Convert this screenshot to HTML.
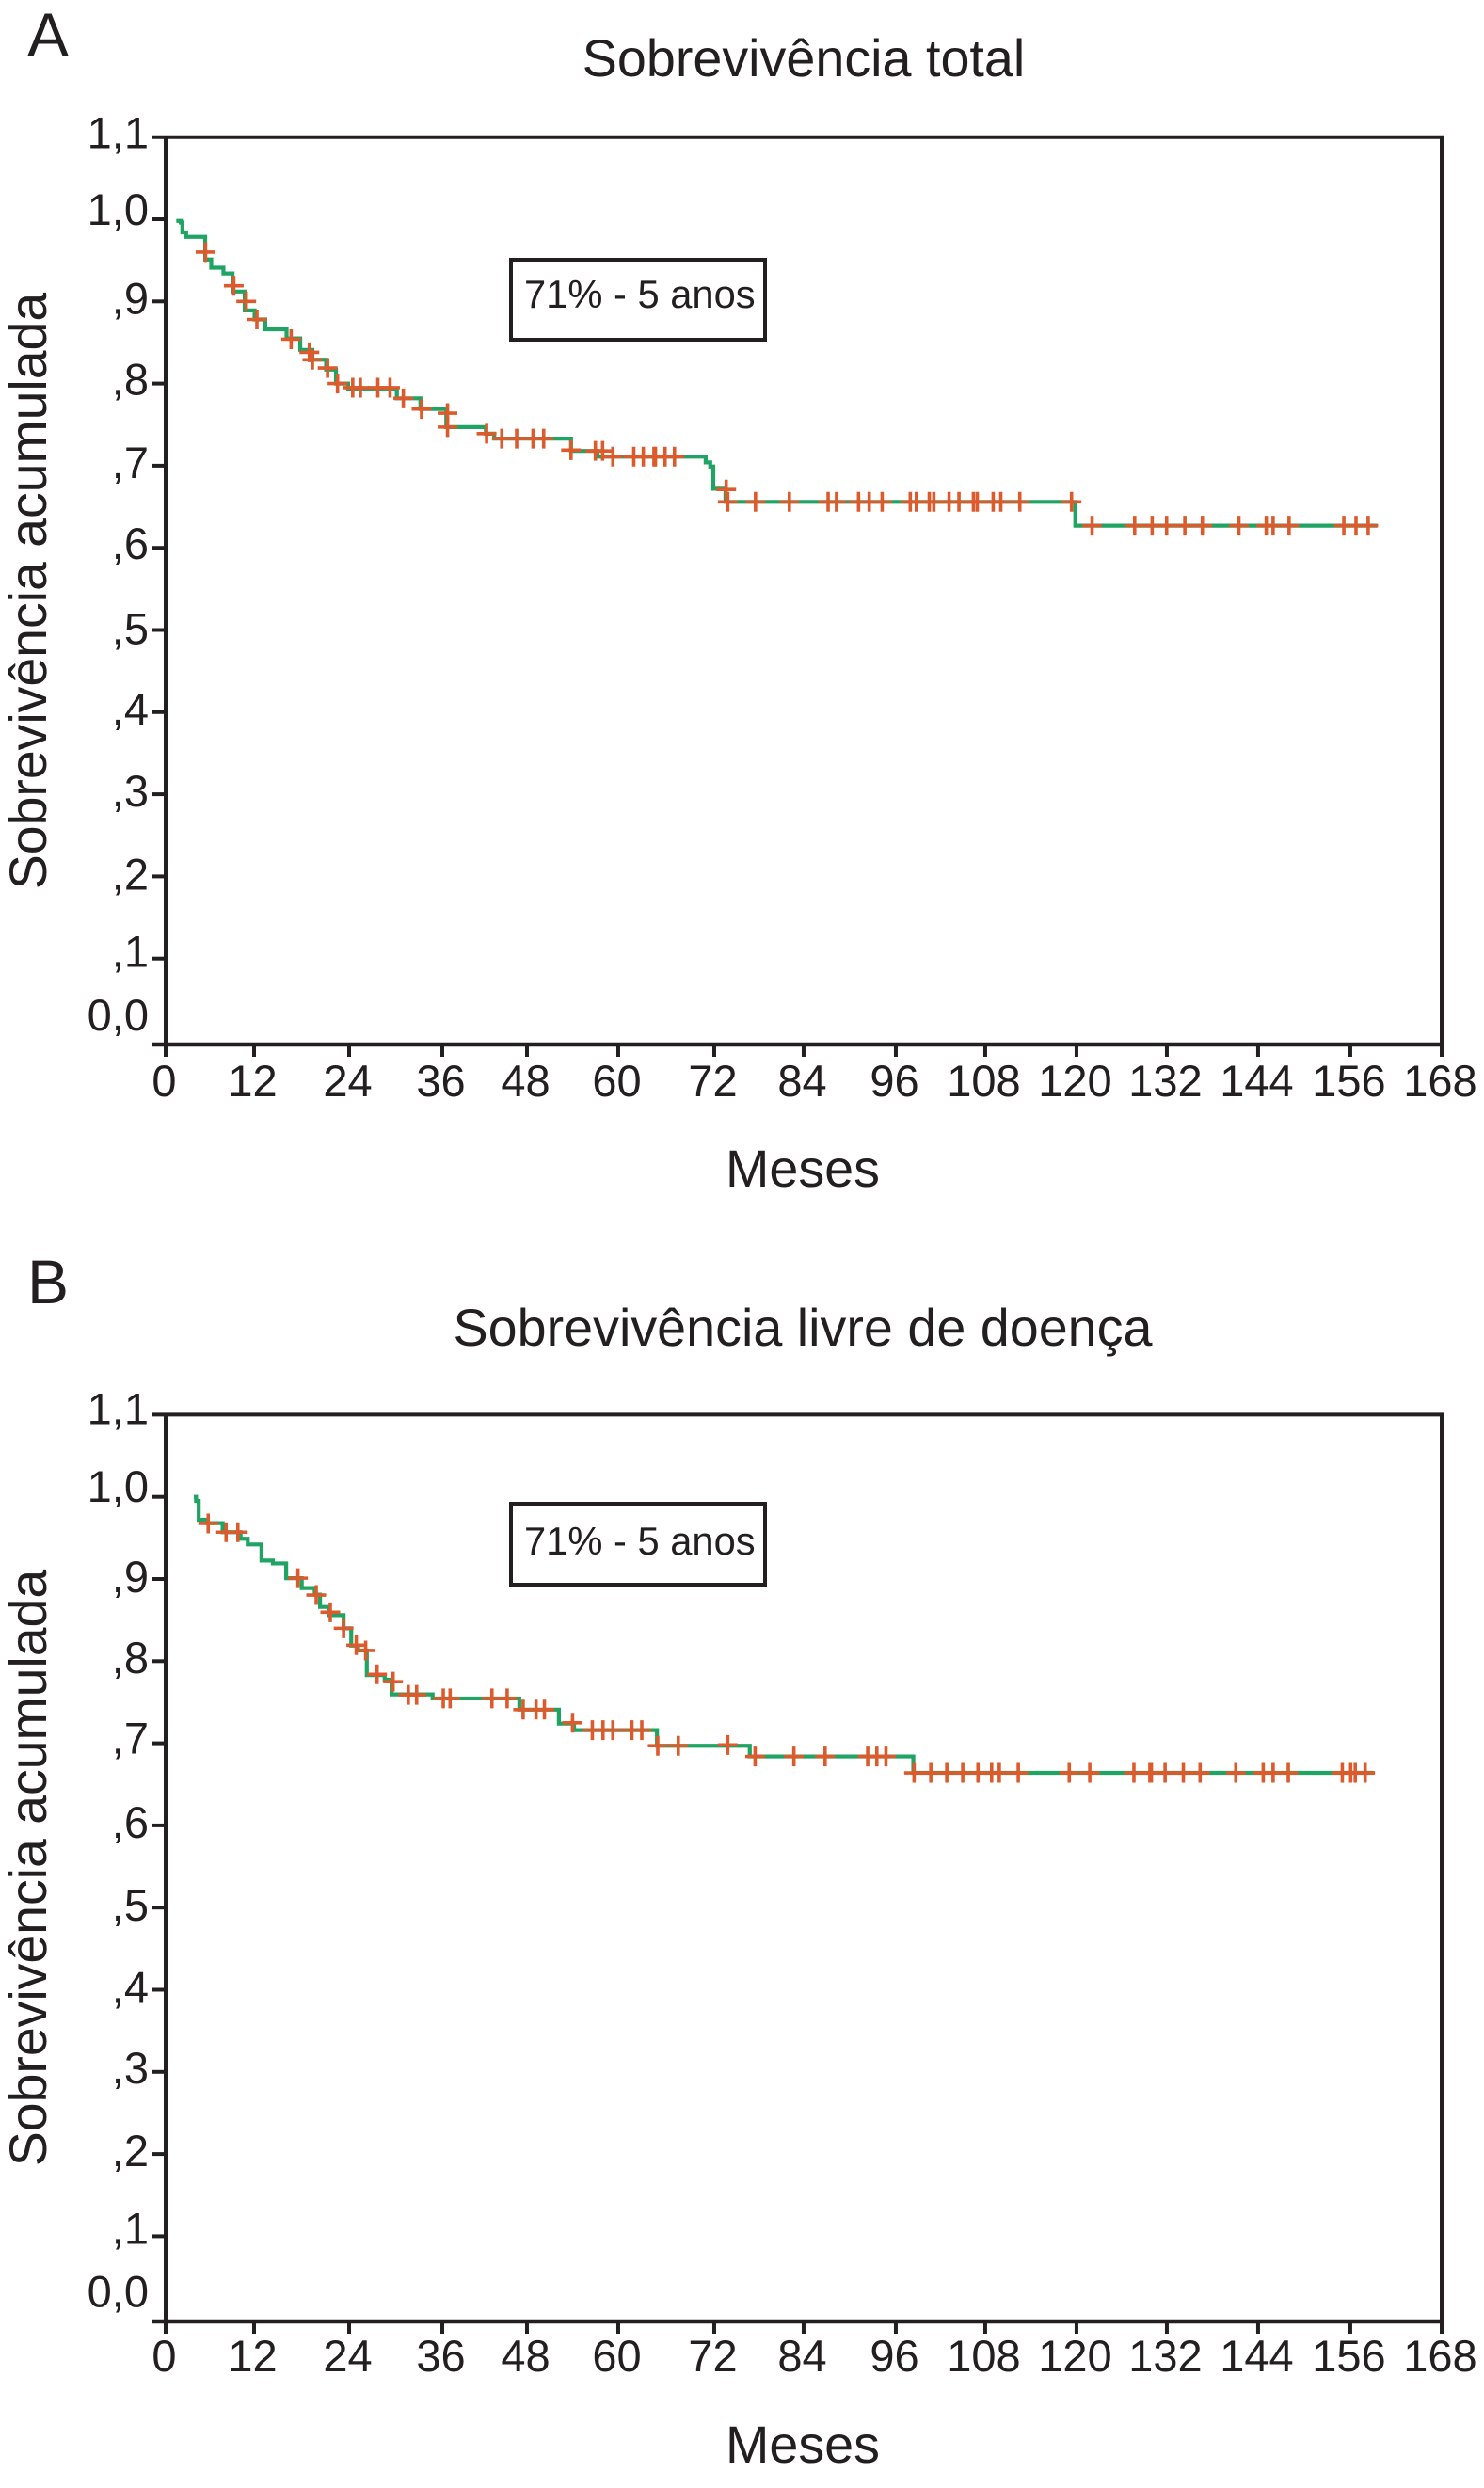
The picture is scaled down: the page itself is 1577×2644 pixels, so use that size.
<!DOCTYPE html>
<html lang="pt">
<head>
<meta charset="utf-8">
<title>Sobrevivência</title>
<style>
html,body{margin:0;padding:0;background:#fff;}
svg{display:block;}
text{font-family:"Liberation Sans",sans-serif;fill:#231f20;}
</style>
</head>
<body>
<svg id="figure" xmlns="http://www.w3.org/2000/svg" width="1577" height="2644" viewBox="0 0 1577 2644">
  <rect x="0" y="0" width="1577" height="2644" fill="#ffffff"/>

  <text x="29" y="60" font-size="66">A</text>
  <text x="854" y="81" font-size="55.7" text-anchor="middle">Sobrevivência total</text>
  <text transform="translate(49,628) rotate(-90)" font-size="55.4" text-anchor="middle">Sobrevivência acumulada</text>
  <text x="853" y="1261" font-size="55.7" text-anchor="middle">Meses</text>
  <rect x="543" y="276" width="270" height="85" fill="#fff" stroke="#231f20" stroke-width="4"/>
  <text x="557" y="327" font-size="41.7">71% - 5 anos</text>
  <g id="chart-a"></g>

  <text x="29" y="1385" font-size="66">B</text>
  <text x="853" y="1430" font-size="55.7" text-anchor="middle">Sobrevivência livre de doença</text>
  <text transform="translate(49,1985) rotate(-90)" font-size="55.4" text-anchor="middle">Sobrevivência acumulada</text>
  <text x="853" y="2617" font-size="55.7" text-anchor="middle">Meses</text>
  <rect x="543" y="1598" width="270" height="86" fill="#fff" stroke="#231f20" stroke-width="4"/>
  <text x="557" y="1652" font-size="41.7">71% - 5 anos</text>
  <g id="chart-b"></g>
</svg>
<script>
var xTickLabels = ["0","12","24","36","48","60","72","84","96","108","120","132","144","156","168"];
var xTickMonths = [0,12,24,36,48,60,72,84,96,108,120,132,144,156,168];
var yTickLabels = ["1,1","1,0",",9",",8",",7",",6",",5",",4",",3",",2",",1","0,0"];
var yTickValues = [1.1,1.0,0.9,0.8,0.7,0.6,0.5,0.4,0.3,0.2,0.1,0.0];

var stepMonthsA = [1.4,2.0,2.2,2.7,5.2,6.0,7.6,8.8,10.4,11.7,13.1,15.9,17.7,19.3,21.1,22.4,24.0,30.4,33.5,36.9,42.1,43.2,53.3,56.8,71.0,71.6,72.0,73.6,119.6];
var stepValuesA = [.998,.996,.984,.9785,.951,.941,.934,.912,.889,.878,.866,.855,.841,.829,.817,.800,.794,.782,.769,.747,.739,.733,.718,.711,.704,.699,.672,.656,.627];
var lastMonthA = 159.3;
var censorMonthsA = [5.24,8.96,10.6,12.0,16.5,18.9,19.3,21.3,22.6,24.6,25.6,27.9,29.5,31.25,33.65,37.06,37.06,42.2,44.2,46.15,48.3,49.7,53.3,56.5,57.45,58.8,61.55,62.8,64.2,64.4,65.66,66.9,73.7,73.9,77.55,82.0,87.1,88.2,91.1,92.5,94.2,97.9,98.7,100.4,101.0,103.0,104.3,106.2,106.7,108.8,109.8,112.3,119.1,121.8,127.4,129.7,131.6,134.0,136.3,141.1,144.7,145.6,147.7,154.9,156.5,158.1];
var censorValuesA = [.960,.919,.900,.878,.854,.838,.829,.819,.800,.795,.795,.795,.795,.782,.769,.764,.747,.739,.733,.733,.733,.733,.719,.718,.718,.711,.711,.711,.711,.711,.711,.711,.671,.656,.656,.656,.656,.656,.656,.656,.656,.656,.656,.656,.656,.656,.656,.656,.656,.656,.656,.656,.656,.627,.627,.627,.627,.627,.627,.627,.627,.627,.627,.627,.627,.627];

var stepMonthsB = [3.7,4.0,4.35,5.4,7.5,9.85,10.8,12.6,14.1,15.85,17.9,19.6,20.3,21.5,23.4,24.4,25.3,26.45,28.8,29.7,35.1,46.5,51.7,53.7,64.6,76.8,98.3];
var stepValuesB = [1.0,.995,.972,.968,.957,.949,.942,.9225,.919,.901,.889,.881,.866,.856,.840,.819,.813,.783,.7775,.7595,.7546,.741,.724,.716,.697,.684,.664];
var lastMonthB = 158.9;
var censorMonthsB = [5.6,7.95,9.5,17.4,19.8,21.65,23.4,25.06,26.3,27.8,29.9,31.9,33.0,36.5,37.4,42.9,44.9,47.0,48.7,49.8,53.5,56.1,57.5,58.8,61.3,62.6,64.7,67.4,73.9,77.5,82.6,86.7,92.3,93.5,94.7,98.4,100.6,102.7,104.8,106.8,108.6,109.6,112.1,118.8,121.5,127.3,129.4,129.6,131.4,133.8,136.0,140.7,144.3,145.6,147.6,154.7,155.8,156.4,157.7];
var censorValuesB = [.9676,.957,.957,.901,.8805,.8595,.840,.8195,.813,.784,.775,.759,.759,.7546,.7546,.7546,.7546,.741,.741,.741,.725,.716,.716,.716,.716,.716,.697,.697,.698,.684,.684,.684,.684,.684,.684,.664,.664,.664,.664,.664,.664,.664,.664,.664,.664,.664,.664,.664,.664,.664,.664,.664,.664,.664,.664,.664,.664,.664,.664];

// Small hand-placement offsets of the printed axis, in pixels (layout only).
var xTickNudge = [0,-3,1,3,-4,-4,1,-1,0,-2,-2,-3,-3,-2,-2];
var yLabelNudgeA = [12,6,13,12,13,12,15,13,13,14,9,-11];
var yLabelNudgeB = [10,5.5,14,12.5,11,13,14,14,12,13,8,-12];

var NS = "http://www.w3.org/2000/svg";
var INK = "#231f20", GREEN = "#1fa463", ORANGE = "#dc5a2c";
var X0 = 176, X_RIGHT = 1532, PX_PER_MONTH = 8.083, PX_PER_UNIT = 873;

function make(parent, tag, attrs) {
  var el = document.createElementNS(NS, tag);
  for (var k in attrs) { el.setAttribute(k, attrs[k]); }
  parent.appendChild(el);
  return el;
}

function drawChart(opts) {
  var g = document.getElementById(opts.id);
  var xScale = function (m) { return X0 + m * PX_PER_MONTH; };
  var yScale = function (v) { return opts.yOne + (1 - v) * PX_PER_UNIT; };
  var top = yScale(1.1), bottom = opts.bottom, tickEnd = bottom + 13;

  var i, el;
  for (i = 0; i < yTickValues.length; i++) {
    var yv = yScale(yTickValues[i]);
    if (i > 0 && i < yTickValues.length - 1) {
      el = make(g, "line", {x1: X0 - 14, x2: X0, y1: yv, y2: yv, stroke: INK, "stroke-width": 4});
      
      
    }
    el = make(g, "text", {x: 158, y: yv + opts.yNudge[i], "font-size": 47, "text-anchor": "end"});
    el.textContent = yTickLabels[i];
    
    
  }

  for (i = 0; i < xTickMonths.length; i++) {
    var xv = xScale(xTickMonths[i]) + xTickNudge[i];
    if (i > 0 && i < xTickMonths.length - 1) {
      el = make(g, "line", {x1: xv, x2: xv, y1: bottom, y2: tickEnd, stroke: INK, "stroke-width": 4});
      
      
    }
    el = make(g, "text", {x: xv - 1.5, y: opts.xLabelY, "font-size": 47, "text-anchor": "middle"});
    el.textContent = xTickLabels[i];
    
    
  }

  el = make(g, "line", {x1: X0 - 14, x2: X_RIGHT + 2, y1: top, y2: top, stroke: INK, "stroke-width": 4});
  
  
  el = make(g, "line", {x1: X0 - 14, x2: X_RIGHT + 2, y1: bottom, y2: bottom, stroke: INK, "stroke-width": 4.5});
  
  
  el = make(g, "line", {x1: X0, x2: X0, y1: top, y2: tickEnd, stroke: INK, "stroke-width": 4});
  
  
  el = make(g, "line", {x1: X_RIGHT, x2: X_RIGHT, y1: top, y2: tickEnd, stroke: INK, "stroke-width": 4});
  
  

  var d = "M" + xScale(opts.stepMonths[0]) + " " + yScale(opts.stepValues[0]);
  for (i = 1; i < opts.stepMonths.length; i++) {
    d += "H" + xScale(opts.stepMonths[i]) + "V" + yScale(opts.stepValues[i]);
  }
  d += "H" + xScale(opts.lastMonth);
  el = make(g, "path", {d: d, fill: "none", stroke: GREEN, "stroke-width": 4.2});
  
  

  for (i = 0; i < opts.censorMonths.length; i++) {
    var cx = xScale(opts.censorMonths[i]), cy = yScale(opts.censorValues[i]);
    el = make(g, "path", {
      d: "M" + (cx - 10.5) + " " + cy + "H" + (cx + 10.5) + "M" + cx + " " + (cy - 10.5) + "V" + (cy + 10.5),
      fill: "none", stroke: ORANGE, "stroke-width": 3.6
    });
    
    
  }
}

drawChart({id: "chart-a", yOne: 233, bottom: 1110, xLabelY: 1165,
  yNudge: yLabelNudgeA, stepMonths: stepMonthsA, stepValues: stepValuesA, lastMonth: lastMonthA,
  censorMonths: censorMonthsA, censorValues: censorValuesA});
drawChart({id: "chart-b", yOne: 1590.7, bottom: 2467, xLabelY: 2520,
  yNudge: yLabelNudgeB, stepMonths: stepMonthsB, stepValues: stepValuesB, lastMonth: lastMonthB,
  censorMonths: censorMonthsB, censorValues: censorValuesB});
</script>
</body>
</html>
